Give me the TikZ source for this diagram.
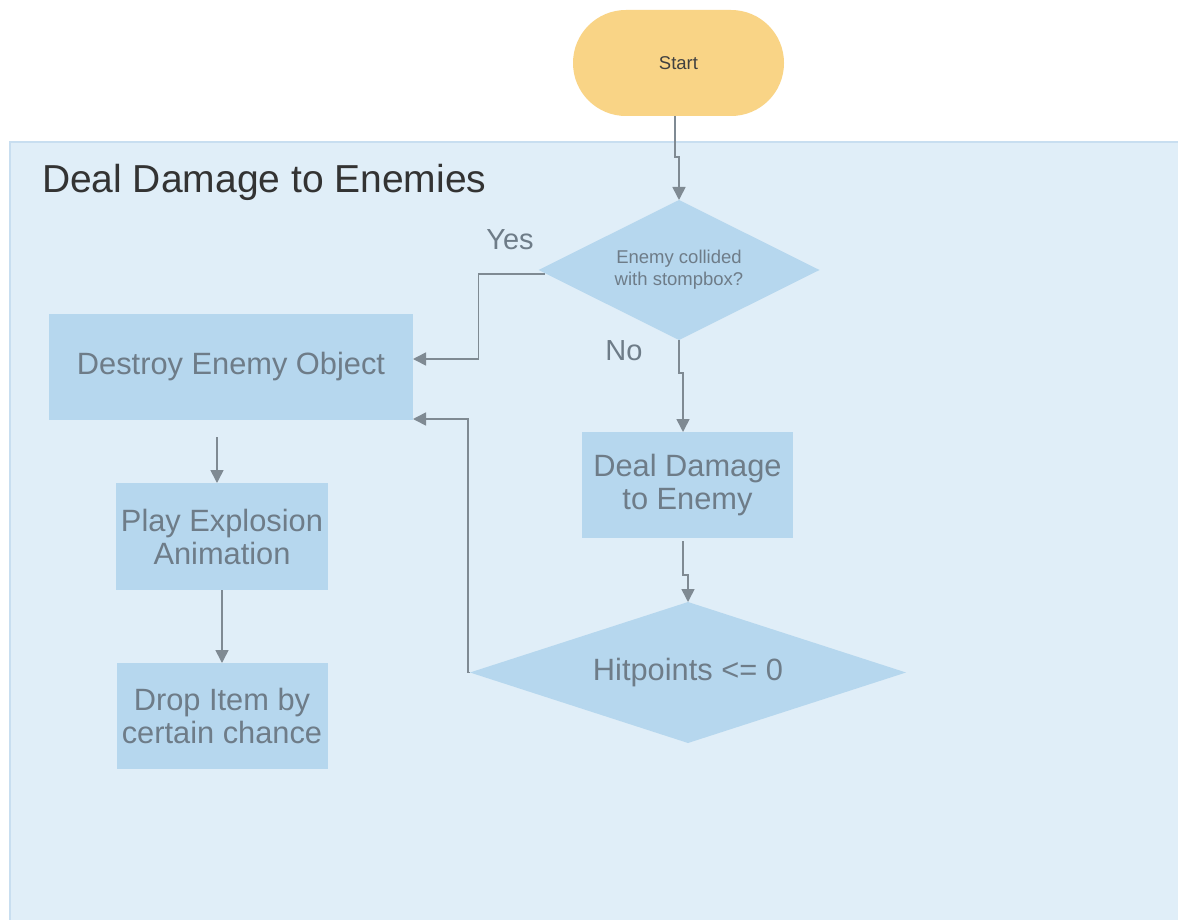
\documentclass[tikz,border=0pt]{standalone}
\usepackage{fontspec}
\setmainfont{Liberation Sans}
\usetikzlibrary{shapes.geometric,arrows.meta}

\definecolor{startfill}{HTML}{F9D486}
\definecolor{starttext}{HTML}{404040}
\definecolor{groupfill}{HTML}{E0EEF8}
\definecolor{groupedge}{HTML}{C8DEF0}
\definecolor{boxfill}{HTML}{B6D7EE}
\definecolor{boxtext}{HTML}{6E7C88}
\definecolor{arrowgray}{HTML}{7F8A93}
\definecolor{titletext}{HTML}{333333}

\begin{document}
\begin{tikzpicture}[x=1pt,y=-1pt,
  every node/.style={inner sep=0pt, outer sep=0pt},
  terminal/.style={rectangle, rounded corners=52.9pt, fill=startfill, text=starttext,
    minimum width=211pt, minimum height=106pt, font=\fontsize{18.5}{22}\selectfont},
  procbox/.style={rectangle, fill=boxfill, text=boxtext, align=center,
    font=\fontsize{30.8}{33}\selectfont},
  decision/.style={diamond, fill=boxfill, text=boxtext, align=center},
  flowarrow/.style={draw=arrowgray, line width=1.6pt,
    -{Triangle[length=13pt,width=13pt]}},
  branchlabel/.style={text=boxtext, font=\fontsize{29}{33}\selectfont}]

% canvas
\useasboundingbox (0,0) rectangle (1178,920);
\fill[white] (0,0) rectangle (1178,920);

% swimlane group
\filldraw[fill=groupfill, draw=groupedge, line width=1.5pt] (10,142) rectangle (1200,950);
\node[anchor=base west, text=titletext, font=\fontsize{39}{46}\selectfont]
  (title) at (42,193) {Deal Damage to Enemies};

% nodes
\node[terminal] (start) at (678.5,63) {Start};
\node[decision, aspect=2, minimum width=281pt, minimum height=140pt,
  font=\fontsize{18.5}{22}\selectfont] (d1) at (679,270) {Enemy collided\\with stompbox?};
\node[procbox, minimum width=364pt, minimum height=106pt] (destroy) at (231,367)
  {Destroy Enemy Object};
\node[procbox, minimum width=211pt, minimum height=106pt] (deal) at (687.5,485)
  {Deal Damage\\to Enemy};
\node[decision, aspect=3, minimum width=436pt, minimum height=141pt,
  font=\fontsize{30.8}{33}\selectfont] (hit) at (688,672.5) {Hitpoints <= 0};
\node[procbox, minimum width=212pt, minimum height=107pt] (play) at (222,536.5)
  {Play Explosion\\Animation};
\node[procbox, minimum width=211pt, minimum height=106pt] (drop) at (222,716)
  {Drop Item by\\certain chance};

% branch labels
\node[branchlabel] (yes) at (510,240) {Yes};
\node[branchlabel] (no) at (624,351) {No};

% connectors
\draw[flowarrow] ([xshift=-3.5pt]start.south) -- ++(0,41) -| (d1.north);
\draw[flowarrow] ([xshift=6pt,yshift=-4pt]d1.west) -- ++(-66,0) |- ([yshift=8pt]destroy.east);
\draw[flowarrow] (d1.south) -- ++(0,33) -| ([xshift=-4.5pt]deal.north);
\draw[flowarrow] ([xshift=-4.5pt,yshift=-3pt]deal.south) -- ++(0,34) -| (hit.north);
\draw[flowarrow] (hit.west) -- ++(-2,0) |- ([yshift=-52pt]destroy.east);
\draw[flowarrow] ([xshift=-14pt,yshift=-17pt]destroy.south) -- ([xshift=-5pt]play.north);
\draw[flowarrow] (play.south) -- (drop.north);
\end{tikzpicture}
\end{document}
